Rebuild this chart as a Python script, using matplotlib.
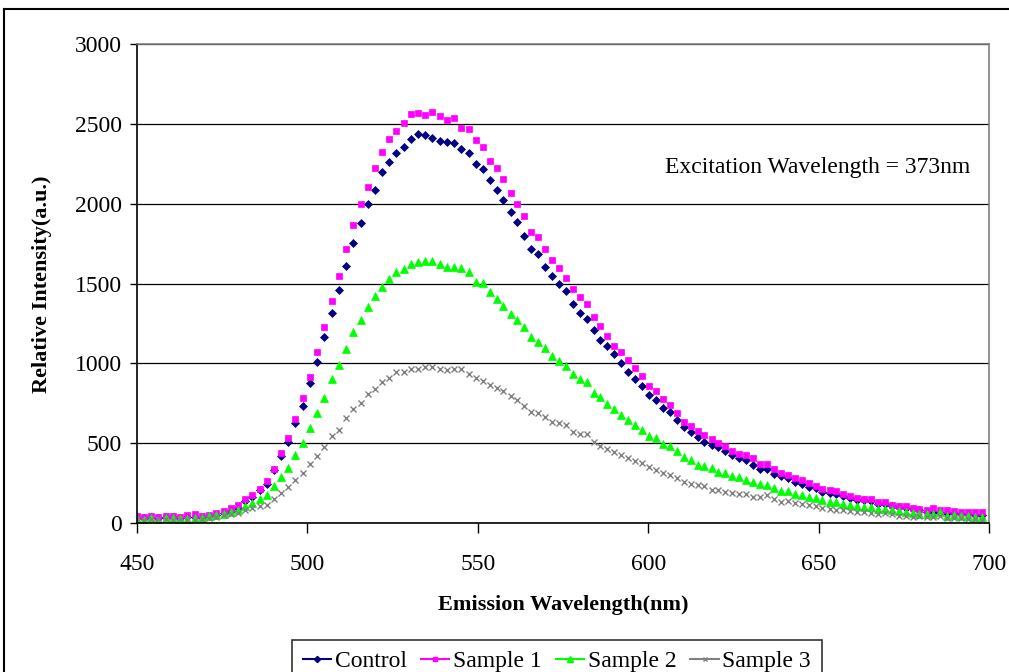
import matplotlib
matplotlib.use("Agg")
import matplotlib.pyplot as plt
from matplotlib.lines import Line2D

plt.rcParams['font.family'] = ['Liberation Serif', 'DejaVu Serif']

wavelength = [
    450.0, 452.1, 454.2, 456.3, 458.5, 460.6, 462.7, 464.8, 466.9, 469.0,
    471.2, 473.3, 475.4, 477.5, 479.6, 481.7, 483.8, 486.0, 488.1, 490.2,
    492.3, 494.4, 496.5, 498.6, 500.8, 502.9, 505.0, 507.1, 509.2, 511.3,
    513.5, 515.6, 517.7, 519.8, 521.9, 524.0, 526.1, 528.2, 530.4, 532.5,
    534.6, 536.7, 538.8, 540.9, 543.1, 545.2, 547.3, 549.4, 551.4, 553.5,
    555.5, 557.5, 559.6, 561.6, 563.7, 565.7, 567.7, 569.8, 571.8, 573.8,
    575.9, 577.9, 579.9, 582.0, 584.0, 586.0, 588.0, 590.1, 592.1, 594.2,
    596.2, 598.2, 600.3, 602.3, 604.3, 606.4, 608.4, 610.4, 612.5, 614.5,
    616.5, 618.6, 620.6, 622.6, 624.7, 626.7, 628.8, 630.8, 632.8, 634.9,
    636.9, 638.9, 641.0, 643.0, 645.0, 647.1, 649.1, 651.1, 653.2, 655.2,
    657.2, 659.3, 661.3, 663.3, 665.4, 667.4, 669.4, 671.5, 673.5, 675.6,
    677.6, 679.6, 681.7, 683.7, 685.7, 687.8, 689.8, 691.8, 693.9, 695.9,
    697.9,
]

control = [
    36, 30, 36, 30, 36, 36, 34, 36, 38, 36, 42, 50, 62, 78, 96, 138, 163, 204, 246, 333,
    417, 510, 625, 733, 875, 1006, 1164, 1314, 1458, 1610, 1754, 1877, 2000, 2085,
    2200, 2264, 2320, 2358, 2408, 2437, 2429, 2414, 2393, 2387, 2379, 2343, 2320, 2250,
    2214, 2150, 2085, 2021, 1948, 1883, 1798, 1718, 1683, 1602, 1546, 1496, 1452,
    1373, 1316, 1279, 1208, 1146, 1108, 1056, 1000, 948, 900, 858, 802,
    769, 723, 696, 648, 602, 567, 537, 508, 487, 477, 450, 429, 408, 394, 365, 337,
    337, 308, 294, 283, 258, 244, 227, 217,
    194, 187, 179, 167, 158, 146, 142, 135, 121, 117, 104, 100, 96, 87, 79, 71,
    70, 65, 62, 60, 58, 54, 52, 50,
]

sample1 = [
    45, 36, 45, 35, 45, 45, 40, 48, 54, 46, 52, 62, 75, 92, 112, 148, 177, 215, 262, 340,
    437, 535, 650, 781, 917, 1069, 1225, 1391, 1550, 1714, 1866, 2000, 2102, 2225,
    2325, 2404, 2456, 2504, 2562, 2568, 2556, 2577, 2550, 2527, 2535, 2477, 2468, 2398,
    2354, 2268, 2225, 2154, 2068, 1996, 1923, 1823, 1793, 1714, 1650, 1594, 1535,
    1464, 1414, 1371, 1291, 1233, 1169, 1110, 1069, 1019, 969, 923, 858,
    829, 777, 742, 692, 633, 606, 577, 550, 529, 504, 481, 454, 431, 425, 404, 369,
    369, 340, 315, 302, 281, 267, 252, 233,
    215, 204, 200, 183, 171, 158, 150, 150, 129, 133, 112, 108, 104, 96, 90, 79,
    96, 79, 83, 75, 67, 67, 67, 67,
]

sample2 = [
    27, 17, 33, 10, 33, 33, 27, 27, 33, 33, 42, 48, 58, 69, 79, 104, 125, 148, 177, 229,
    287, 344, 423, 504, 596, 689, 783, 900, 992, 1091, 1194, 1273, 1352, 1419,
    1481, 1531, 1575, 1589, 1625, 1633, 1639, 1639, 1625, 1604, 1604, 1598, 1575, 1508,
    1504, 1448, 1404, 1358, 1308, 1271, 1229, 1164, 1135, 1094, 1048, 1012, 983,
    933, 900, 883, 812, 792, 746, 717, 677, 646, 612, 583, 544,
    533, 494, 481, 452, 415, 394, 365, 358, 342, 319, 315, 294, 285, 269, 256, 244,
    235, 219, 202, 198, 181, 173, 165, 156,
    142, 133, 129, 121, 112, 104, 98, 100, 85, 85, 79, 75, 71, 62, 58, 54,
    54, 67, 46, 50, 46, 42, 40, 35,
]

sample3 = [
    23, 17, 27, 23, 27, 21, 23, 21, 21, 25, 33, 40, 50, 55, 62, 79, 92, 104, 112, 148,
    187, 225, 267, 312, 369, 417, 475, 542, 583, 656, 712, 754, 806, 839,
    883, 906, 944, 944, 965, 965, 979, 979, 965, 956, 965, 965, 935, 906,
    889, 864, 844, 827, 796, 771, 735, 698, 692, 662, 633, 629, 612,
    569, 556, 556, 506, 483, 462, 442, 425, 404, 387, 375, 348,
    335, 315, 300, 279, 258, 244, 237, 231, 206, 206, 196, 190, 181, 181, 165, 160,
    173, 148, 131, 135, 127, 119, 110, 106,
    92, 87, 83, 79, 75, 71, 67, 65, 58, 62, 54, 46, 46, 37, 42, 37,
    37, 46, 29, 33, 29, 25, 25, 21,
]

series_names = ["Control", "Sample 1", "Sample 2", "Sample 3"]
colors = ["#000080", "#FF00FF", "#00FF00", "#808080"]
markers = ["D", "s", "^", "x"]
sizes = [4.5, 4.5, 5.5, 5]

fig = plt.figure(figsize=(10.09, 6.72), dpi=100)
ax = fig.add_axes([137 / 1009, 1 - 523 / 672, 852 / 1009, 479 / 672])

for vals, c, m, s in zip([control, sample1, sample2, sample3], colors, markers, sizes):
    ax.plot(wavelength, vals, linestyle='none', marker=m, color=c,
            markersize=s, markeredgewidth=1.0 if m == 'x' else 0.5)

ax.set_xlim(450, 700)
ax.set_ylim(0, 3000)
ax.set_xticks([450, 500, 550, 600, 650, 700])
ax.set_yticks([0, 500, 1000, 1500, 2000, 2500, 3000])
ax.yaxis.grid(True, color='black', linewidth=0.9)
ax.set_axisbelow(True)

for side in ['top', 'right']:
    ax.spines[side].set_color('#808080')
    ax.spines[side].set_linewidth(1.2)
for side in ['left', 'bottom']:
    ax.spines[side].set_color('black')
    ax.spines[side].set_linewidth(1.2)

ax.tick_params(axis='y', labelsize=17, length=5, width=1, direction='out', pad=6)
ax.tick_params(axis='x', labelsize=17, length=7, width=1, direction='out', pad=15)

ax.text(0.62, 0.743, "Excitation Wavelength = 373nm", transform=ax.transAxes,
        fontsize=17, ha='left', va='center')

fig.text(42 / 1009, 1 - 284 / 672, "Relative Intensity(a.u.)", rotation=90,
         fontsize=16, fontweight='bold', ha='center', va='center')
fig.text(563 / 1009, 1 - 605 / 672, "Emission Wavelength(nm)",
         fontsize=16, fontweight='bold', ha='center', va='center')

# outer chart border (cut off at right and bottom in the original)
fig.add_artist(Line2D([4 / 1009, 1], [1 - 9 / 672, 1 - 9 / 672], color='black', linewidth=1.5))
fig.add_artist(Line2D([4 / 1009, 4 / 1009], [0, 1 - 9 / 672], color='black', linewidth=1.5))

handles = [Line2D([0], [0], color=c, marker=m, markersize=s * 0.7, linewidth=1.5)
           for c, m, s in zip(colors, markers, sizes)]
leg = fig.legend(handles, series_names, loc='upper center', bbox_to_anchor=(0.552, 1 - 640 / 672),
                 ncol=4, fontsize=17, frameon=True, fancybox=False, edgecolor='black',
                 handlelength=1.2, handletextpad=0.15, columnspacing=0.6, borderpad=0.45,
                 borderaxespad=0)
leg.get_frame().set_linewidth(1.2)

fig.savefig("out.png", dpi=100)
